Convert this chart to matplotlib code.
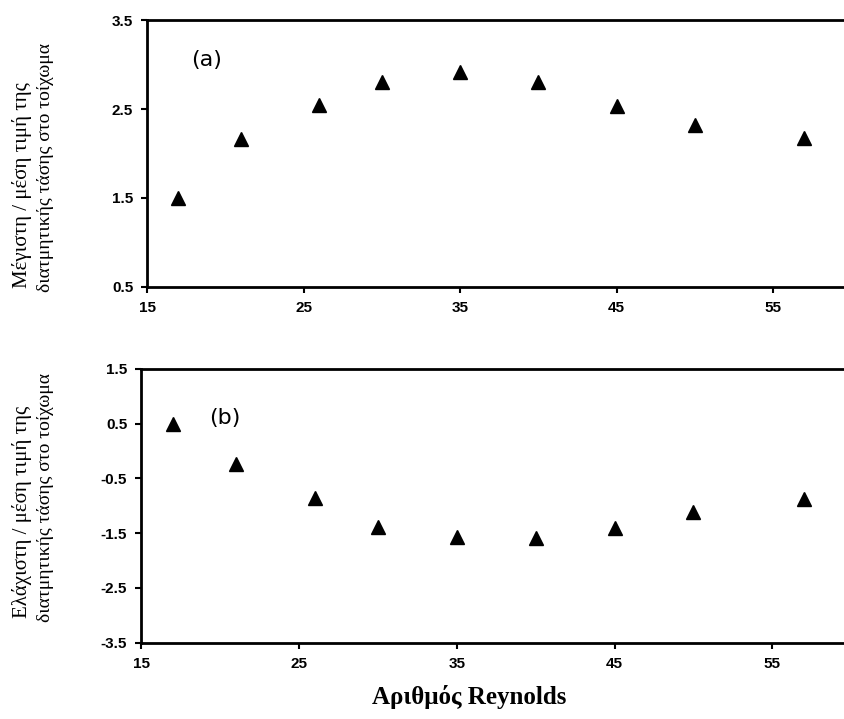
import matplotlib.pyplot as plt

# Reynolds numbers and wall shear stress ratios
reynolds = [17, 21, 26, 30, 35, 40, 45, 50, 57]
max_ratio = [1.5, 2.16, 2.55, 2.8, 2.92, 2.8, 2.53, 2.32, 2.18]
min_ratio = [0.5, -0.23, -0.86, -1.38, -1.57, -1.59, -1.4, -1.12, -0.88]

xticks = [15, 25, 35, 45, 55]
yticks_a = [0.5, 1.5, 2.5, 3.5]
yticks_b = [-3.5, -2.5, -1.5, -0.5, 0.5, 1.5]

fig = plt.figure(figsize=(8.45, 7.19), dpi=100)
ax1 = fig.add_axes([0.174, 0.601, 0.826, 0.371])
ax2 = fig.add_axes([0.167, 0.106, 0.833, 0.381])

for ax, y, yt in [(ax1, max_ratio, yticks_a), (ax2, min_ratio, yticks_b)]:
    ax.plot(reynolds, y, linestyle='none', marker='^', color='black', markersize=10)
    ax.set_xlim(15, 59.6)
    ax.set_ylim(yt[0], yt[-1])
    ax.set_xticks(xticks)
    ax.set_yticks(yt)
    ax.set_yticklabels(['%.1f' % v for v in yt])
    ax.spines['right'].set_visible(False)
    for s in ['left', 'bottom', 'top']:
        ax.spines[s].set_linewidth(2)
    ax.tick_params(direction='out', length=4, width=1.5, pad=6)
    for t in ax.get_xticklabels() + ax.get_yticklabels():
        t.set_fontfamily('Liberation Sans')
        t.set_fontweight('bold')
        t.set_fontsize(11)

ax1.text(0.085, 0.85, '(a)', transform=ax1.transAxes, fontsize=16, ha='center', va='center')
ax2.text(0.119, 0.82, '(b)', transform=ax2.transAxes, fontsize=16, ha='center', va='center')

# y labels (two lines each, left aligned from the bottom)
fig.text(0.026, 1 - 288 / 719, 'Μέγιστη / μέση τιμή της', rotation=90,
         ha='center', va='bottom', family='Liberation Serif', fontsize=15)
fig.text(0.054, 1 - 292 / 719, 'διατμητικής τάσης στο τοίχωμα', rotation=90,
         ha='center', va='bottom', family='Liberation Serif', fontsize=14)
fig.text(0.026, 1 - 618 / 719, 'Ελάχιστη / μέση τιμή της', rotation=90,
         ha='center', va='bottom', family='Liberation Serif', fontsize=15)
fig.text(0.054, 1 - 622 / 719, 'διατμητικής τάσης στο τοίχωμα', rotation=90,
         ha='center', va='bottom', family='Liberation Serif', fontsize=14)

fig.text(0.555, 0.03, 'Αριθμός Reynolds', ha='center', va='center',
         family='Liberation Serif', fontweight='bold', fontsize=18)

fig.savefig('out.png', dpi=100)
